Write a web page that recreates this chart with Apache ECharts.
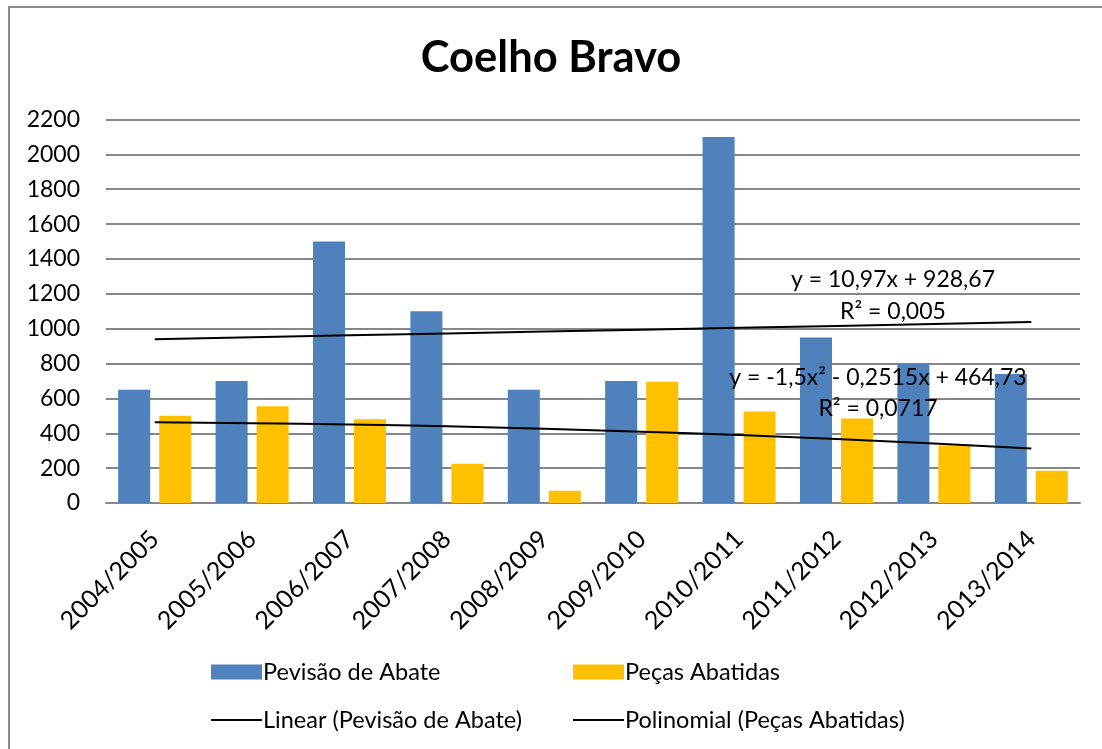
<!DOCTYPE html>
<html>
<head>
<meta charset="utf-8">
<script src="https://cdn.jsdelivr.net/npm/echarts@6/dist/echarts.min.js"></script>
<style>
html,body{margin:0;padding:0;background:#fff;}
#chart{width:1102px;height:749px;}
</style>
</head>
<body>
<div id="chart"></div>
<script>
//类别与数据
var categories = ['2004/2005','2005/2006','2006/2007','2007/2008','2008/2009','2009/2010','2010/2011','2011/2012','2012/2013','2013/2014'];
var previsao = [650, 700, 1500, 1100, 650, 700, 2100, 950, 800, 740];
var abatidas = [500, 555, 480, 225, 70, 695, 525, 485, 330, 185];
//趋势线
var linearTrend = [940, 951, 962, 973, 984, 994, 1005, 1016, 1027, 1038];
var polyTrend = [463, 458, 450, 440, 426, 409, 390, 367, 341, 312];
var yTicks = [0, 2200, 200];

var font = 'Lato, "Open Sans", sans-serif';
var fs = 23;
var chart = echarts.init(document.getElementById('chart'));
//图例(每项单独定位)
function legendAt(left, top, name, h){
	return {
		left: left, top: top, icon: 'rect', itemWidth: 51, itemHeight: h, itemGap: 0,
		data: [name], selectedMode: false,
		textStyle: {fontFamily: font, fontSize: fs + 0.5, color: '#000', padding: [0, 0, 0, -4]}
	};
}
function eqText(x, y, txt){
	return {type: 'text', x: x, y: y, z: 10,
		style: {text: txt, font: fs + 'px ' + font, fill: '#000', align: 'center', verticalAlign: 'middle'}};
}
var option = {
	animation: false,
	backgroundColor: '#fff',
	title: {
		text: 'Coelho Bravo', left: 'center', top: 31,
		textStyle: {fontFamily: font, fontSize: 43.5, fontWeight: 'bold', color: '#000'}
	},
	legend: [
		legendAt(206, 655, 'Pevisão de Abate', 15),
		legendAt(568, 655, 'Peças Abatidas', 15),
		legendAt(206, 703, 'Linear (Pevisão de Abate)', 2),
		legendAt(568, 703, 'Polinomial (Peças Abatidas)', 2)
	],
	grid: {left: 106, right: 22, top: 119.5, bottom: 246},
	xAxis: {
		type: 'category', data: categories,
		axisLine: {lineStyle: {color: '#878787', width: 2}},
		axisTick: {show: false},
		axisLabel: {rotate: 45, fontFamily: font, fontSize: 25, color: '#000', margin: 32}
	},
	yAxis: {
		type: 'value', min: yTicks[0], max: yTicks[1], interval: yTicks[2],
		axisLine: {show: false}, axisTick: {show: false},
		axisLabel: {fontFamily: font, fontSize: fs, color: '#000', margin: 26,
			formatter: function(v){ return String(v); }},
		splitLine: {lineStyle: {color: '#878787', width: 2}}
	},
	series: [
		{name: 'Pevisão de Abate', type: 'bar', data: previsao, itemStyle: {color: '#4F81BD'},
			barGap: '28%', barCategoryGap: '25%'},
		{name: 'Peças Abatidas', type: 'bar', data: abatidas, itemStyle: {color: '#FFC000'}},
		{name: 'Linear (Pevisão de Abate)', type: 'line', data: linearTrend, showSymbol: false,
			symbol: 'none', itemStyle: {color: '#000'}, lineStyle: {color: '#000', width: 2}, z: 5},
		{name: 'Polinomial (Peças Abatidas)', type: 'line', data: polyTrend, showSymbol: false,
			symbol: 'none', smooth: true, itemStyle: {color: '#000'}, lineStyle: {color: '#000', width: 2}, z: 5}
	],
	graphic: [
		{type: 'rect', shape: {x: 9, y: 7, width: 1102, height: 760}, silent: true,
			style: {fill: 'none', stroke: '#8a8a8a', lineWidth: 2}},
		eqText(893, 280, 'y = 10,97x + 928,67'),
		eqText(893, 312, 'R² = 0,005'),
		eqText(878, 378, 'y = -1,5x² - 0,2515x + 464,73'),
		eqText(878, 409, 'R² = 0,0717')
	]
};
chart.setOption(option);
</script>
</body>
</html>
